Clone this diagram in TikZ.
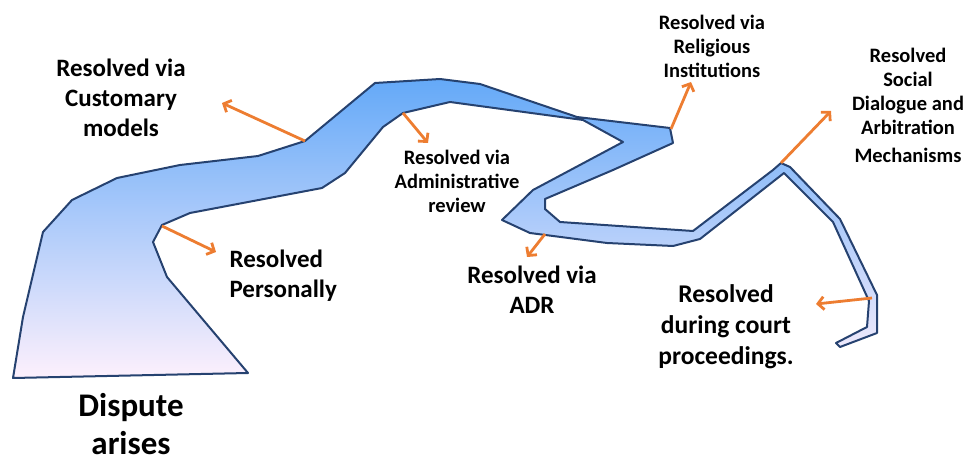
\documentclass[tikz,border=0pt]{standalone}
\usepackage{fontspec}
\setmainfont{Carlito}
\usetikzlibrary{arrows.meta}
\definecolor{riverline}{RGB}{38,66,112}
\definecolor{rivertop}{RGB}{100,169,248}
\definecolor{rivermid}{RGB}{160,206,251}
\definecolor{riverbot}{RGB}{253,240,252}
\definecolor{arroworange}{RGB}{237,125,49}
\begin{document}
\begin{tikzpicture}[x=1pt, y=-1pt,
    arr/.style={line width=2.8pt, arroworange, -{Straight Barb[length=6pt,width=13pt]}},
    big/.style={align=center, font=\fontsize{25}{30}\selectfont\bfseries},
    small/.style={align=center, font=\fontsize{20.5}{24}\selectfont\bfseries}]
    \useasboundingbox (0,0) rectangle (975,462);

    \draw[riverline, line width=2pt, line join=round,
      top color=rivertop, middle color=rivermid, bottom color=riverbot]
      (13,378) -- (23,317) -- (43,232) -- (72,200) -- (117,178) -- (180,165)
      -- (258,156) -- (305,141) -- (375,83) -- (440,79) -- (480,84) -- (577,117)
      -- (670,128) -- (673,143) -- (613,170) -- (545,199) -- (545,209) -- (560,222)
      -- (693,231) -- (773,170) -- (781,163) -- (790,167) -- (840,219) -- (877,295)
      -- (877,333) -- (840,347) -- (836,343) -- (867,327) -- (869,301) -- (833,222)
      -- (784,173) -- (700,239) -- (673,246) -- (607,243) -- (530,233) -- (502,220)
      -- (533,190) -- (623,142) -- (583,120) -- (450,102) -- (403,113) -- (383,127)
      -- (345,173) -- (322,188) -- (190,213) -- (162,225) -- (153,242) -- (167,277)
      -- (248,373) -- cycle;

    \coordinate (custS) at (305,141);  \coordinate (custE) at (222,103);
    \coordinate (persS) at (162,226);  \coordinate (persE) at (216,252);
    \coordinate (admS) at (403,113);   \coordinate (admE) at (428,143);
    \coordinate (relS) at (671,129);   \coordinate (relE) at (691,82);
    \coordinate (adrS) at (545,234);   \coordinate (adrE) at (527,257);
    \coordinate (socS) at (781,163);   \coordinate (socE) at (831,111);
    \coordinate (crtS) at (872,298);   \coordinate (crtE) at (816,304);

    \draw[arr] (custS) -- (custE);
    \draw[arr] (persS) -- (persE);
    \draw[arr] (admS) -- (admE);
    \draw[arr] (relS) -- (relE);
    \draw[arr] (adrS) -- (adrE);
    \draw[arr] (socS) -- (socE);
    \draw[arr] (crtS) -- (crtE);

    \node[big] (cust) at (121,98) {Resolved via\\Customary\\models};
    \node[big, align=left, anchor=west] (pers) at (226,276) {Resolved\\Personally};
    \node[small] (adm) at (457,181) {Resolved via\\Administrative\\review};
    \node[big] (adr) at (532,290) {Resolved via\\ADR};
    \node[small] (rel) at (712,46) {Resolved via\\Religious\\Institutions};
    \node[small] (soc) at (908,105) {Resolved\\Social\\Dialogue and\\Arbitration\\[4pt]Mechanisms};
    \node[big, font=\fontsize{25.5}{31}\selectfont\bfseries] (crt) at (726,327)
      {Resolved\\during court\\proceedings.};
    \node[font=\fontsize{33}{38}\selectfont\bfseries, align=center, inner sep=0pt] (disp) at (131,424)
      {Dispute\\arises};
\end{tikzpicture}
\end{document}
